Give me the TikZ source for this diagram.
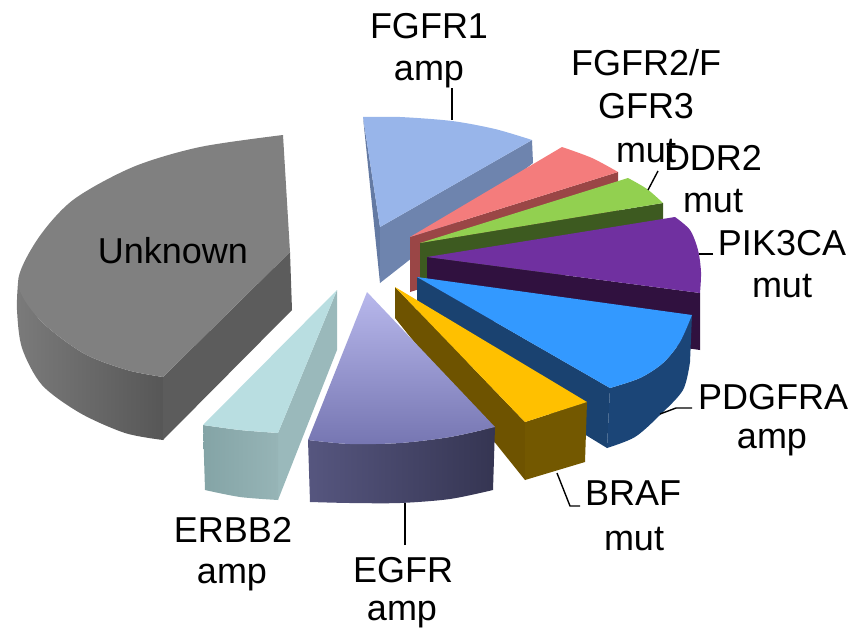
\documentclass[tikz,border=0pt]{standalone}
\usepackage{fontspec}
\setmainfont{Liberation Sans}
\begin{document}
\begin{tikzpicture}[x=1pt,y=-1pt,
  lbl/.style={font=\fontsize{36pt}{40pt}\selectfont, anchor=base, inner sep=0pt},
  lead/.style={draw=black, line width=1.4pt}]
\useasboundingbox (0,0) rectangle (862,632);
% ---------------- Unknown ----------------
\shade[left color=black!52, right color=black!66]
  plot[smooth] coordinates {(18,283)(40,320)(83,353)(127,370)(163,377)}
  -- (163,440)
  -- plot[smooth] coordinates {(163,440)(125,433)(80,413)(42,385)(22,348)(17,310)(18,283)} -- cycle;
\fill[black!64] (290,252) -- (163,377) -- (163,440) -- (292,310) -- cycle;
\fill[black!50]
  plot[smooth] coordinates {(283,135)(200,147)(133,167)(73,200)(37,240)(18,283)(40,320)(83,353)(127,370)(163,377)}
  -- (290,252) -- cycle;
% ---------------- FGFR1 ----------------
\fill[color={rgb,255:red,100;green,122;blue,163}] (363,117) -- (380,227) -- (380,283) -- cycle;
\fill[color={rgb,255:red,110;green,132;blue,174}] (532,140) -- (533,163) -- (380,283) -- (380,227) -- cycle;
\fill[color={rgb,255:red,152;green,181;blue,234}]
  plot[smooth] coordinates {(363,117)(400,117)(452,121)(495,129)(532,140)} -- (380,227) -- cycle;
% ---------------- FGFR2/FGFR3 ----------------
\fill[color={rgb,255:red,154;green,70;blue,70}] (410,237) -- (618,172) -- (618,227) -- (410,292) -- cycle;
\fill[color={rgb,255:red,244;green,124;blue,124}]
  (410,237) -- plot[smooth] coordinates {(562,147)(592,158)(618,172)} -- cycle;
% ---------------- DDR2 ----------------
\fill[color={rgb,255:red,61;green,90;blue,32}] (420,243) -- (663,203) -- (663,258) -- (420,298) -- cycle;
\fill[color={rgb,255:red,146;green,208;blue,80}]
  (420,243) -- plot[smooth] coordinates {(628,178)(647,189)(663,203)} -- cycle;
% ---------------- PIK3CA ----------------
\fill[color={rgb,255:red,48;green,17;blue,63}] (427,257) -- (700,293) -- (700,350) -- (427,312) -- cycle;
\fill[color={rgb,255:red,112;green,48;blue,160}]
  (427,257) -- plot[smooth] coordinates {(675,217)(690,230)(698,250)(701,272)(700,293)} -- cycle;
% ---------------- PDGFRA ----------------
\fill[color={rgb,255:red,26;green,66;blue,112}] (417,277) -- (610,388) -- (607,448) -- (417,332) -- cycle;
\fill[color={rgb,255:red,27;green,69;blue,119}]
  plot[smooth] coordinates {(692,315)(680,342)(663,363)(640,378)(610,388)}
  -- (607,448)
  -- plot[smooth] coordinates {(607,448)(635,437)(660,415)(683,390)(690,362)} -- cycle;
\fill[color={rgb,255:red,51;green,153;blue,255}]
  (417,277) -- plot[smooth] coordinates {(692,315)(680,342)(663,363)(640,378)(610,388)} -- cycle;
% ---------------- BRAF ----------------
\fill[color={rgb,255:red,110;green,83;blue,0}] (395,287) -- (525,422) -- (525,480) -- (395,318) -- cycle;
\fill[color={rgb,255:red,115;green,88;blue,0}] (525,422) -- (587,402) -- (585,462) -- (525,480) -- cycle;
\fill[color={rgb,255:red,255;green,192;blue,0}] (395,287) -- (587,402) -- (525,422) -- cycle;
% ---------------- EGFR ----------------
\shade[left color={rgb,255:red,86;green,86;blue,127}, right color={rgb,255:red,53;green,53;blue,82}]
  plot[smooth] coordinates {(308,440)(350,444)(400,443)(450,437)(495,427)}
  -- (493,490)
  -- plot[smooth] coordinates {(493,490)(450,499)(400,503)(350,503)(310,502)} -- cycle;
\shade[top color={rgb,255:red,184;green,184;blue,236}, bottom color={rgb,255:red,118;green,118;blue,178}]
  (367,292) -- plot[smooth] coordinates {(308,440)(350,444)(400,443)(450,437)(495,427)} -- cycle;
% ---------------- ERBB2 ----------------
\fill[color={rgb,255:red,154;green,185;blue,187}] (337,290) -- (278,433) -- (278,500) -- (337,350) -- cycle;
\shade[left color={rgb,255:red,132;green,164;blue,166}, right color={rgb,255:red,150;green,180;blue,182}]
  plot[smooth] coordinates {(203,425)(240,430)(278,433)}
  -- (278,500)
  -- plot[smooth] coordinates {(278,500)(240,497)(205,490)} -- cycle;
\fill[color={rgb,255:red,185;green,222;blue,225}]
  (337,290) -- plot[smooth] coordinates {(203,425)(240,430)(278,433)} -- cycle;
% ---------------- Labels ----------------
\node[lbl] (unk) at (173,263) {Unknown};
\node[lbl] (f1a) at (429,38) {FGFR1};
\node[lbl] (f1b) at (429,80) {amp};
\node[lbl] (f2a) at (646,75) {FGFR2/F};
\node[lbl] (f2b) at (646,118) {GFR3};
\node[lbl] (f2c) at (646,162) {mut};
\node[lbl] (dda) at (713,170) {DDR2};
\node[lbl] (ddb) at (713,212) {mut};
\node[lbl] (pia) at (782,255) {PIK3CA};
\node[lbl] (pib) at (782,297) {mut};
\node[lbl] (pda) at (773,409) {PDGFRA};
\node[lbl] (pdb) at (772,448) {amp};
\node[lbl] (bra) at (633,505) {BRAF};
\node[lbl] (brb) at (634,550) {mut};
\node[lbl] (ega) at (403,582) {EGFR};
\node[lbl] (egb) at (402,620) {amp};
\node[lbl] (era) at (233,542) {ERBB2};
\node[lbl] (erb) at (232,583) {amp};
% ---------------- Leader lines ----------------
\coordinate (c1a) at (452,88);  \coordinate (c1b) at (452,120);
\coordinate (c2a) at (658,171); \coordinate (c2b) at (648,190);
\coordinate (c3a) at (713,254); \coordinate (c3b) at (699,254);
\coordinate (c4a) at (692,408); \coordinate (c4m) at (676,408); \coordinate (c4b) at (660,414);
\coordinate (c5a) at (580,506); \coordinate (c5m) at (570,506); \coordinate (c5b) at (557,473);
\coordinate (c6a) at (405,545); \coordinate (c6b) at (405,503);
\draw[lead] (c1a) -- (c1b);
\draw[lead] (c2a) -- (c2b);
\draw[lead] (c3a) -- (c3b);
\draw[lead] (c4a) -- (c4m) -- (c4b);
\draw[lead] (c5a) -- (c5m) -- (c5b);
\draw[lead] (c6a) -- (c6b);
\end{tikzpicture}
\end{document}
